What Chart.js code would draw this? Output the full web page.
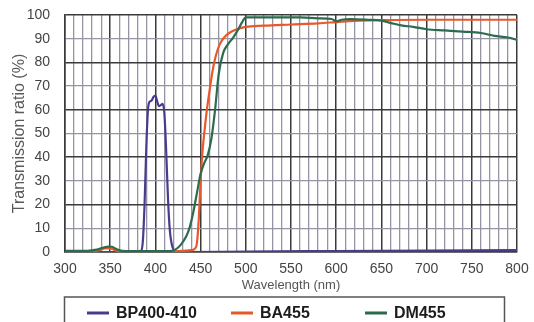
<!DOCTYPE html>
<html>
<head>
<meta charset="utf-8">
<script src="https://cdn.jsdelivr.net/npm/chart.js@4/dist/chart.umd.min.js"></script>
<style>
  html, body { margin: 0; padding: 0; background: #ffffff; }
  #c { display: block; }
</style>
</head>
<body>
<canvas id="c" width="534" height="322"></canvas>
<script>
// Transmission curves of the filter set (wavelength in nm, transmission in %)
const bpWavelength = [300, 380, 384, 386, 388, 390, 392, 394, 396, 398, 400, 402, 404, 406, 408, 410, 412, 414, 416, 418, 420, 423, 430, 500, 600, 700, 800];
const bpValues     = [0, 0, 0.5, 4, 20, 45, 61, 63.5, 64, 65.5, 66, 63.5, 61.5, 62, 62.5, 58, 42, 22, 9, 3.5, 1, 0, 0, 0.2, 0.4, 0.6, 0.8];

const baWavelength = [300, 330, 338, 344, 350, 354, 360, 420, 440, 444, 446, 448, 450, 452, 454, 456, 458, 461, 464, 467, 471, 476, 482, 490, 500, 520, 550, 580, 600, 620, 650, 700, 750, 800];
const baValues     = [0, 0, 0.8, 1.5, 1.6, 1, 0.2, 0.3, 0.8, 1.5, 4, 14, 30, 42, 50, 57, 63, 71, 78, 83, 87.5, 90.5, 92.5, 94, 95, 95.5, 96, 96.5, 97, 97.5, 97.8, 98, 98, 98];

const dmWavelength = [300, 325, 335, 342, 348, 352, 357, 363, 375, 415, 422, 428, 434, 438, 442, 446, 450, 454, 458, 462, 466, 470, 475, 480, 486, 491, 496, 500, 530, 560, 580, 595, 600, 606, 615, 635, 650, 660, 672, 685, 700, 720, 740, 760, 775, 790, 800];
const dmValues     = [0.5, 0.5, 1, 1.8, 2.3, 2.2, 1.2, 0.5, 0.4, 0.4, 1, 3, 6.5, 10.5, 17, 25, 33, 37.5, 41, 48, 60, 75, 84, 87.5, 90.5, 93.5, 97, 99, 99, 99, 98.6, 98.3, 97.3, 98, 98.3, 98, 97.6, 96.7, 95.6, 95, 94, 93.5, 93, 92.4, 91.2, 90.5, 89.5];

const seriesNames  = ['BP400-410', 'BA455', 'DM455'];
const seriesColors = ['#4a3c8c', '#e8592a', '#2c6b4e'];

const xMin = 300, xMax = 800, xStep = 10, xLabelEvery = 50;
const yMin = 0, yMax = 100, yStep = 10, yMajorEvery = 20;

const toPoints = (xs, ys) => xs.map((x, i) => ({ x: x, y: ys[i] }));

// Boxed legend drawn under the axis title
const boxedLegend = {
  id: 'boxedLegend',
  afterDraw(chart) {
    const ctx = chart.ctx;
    const area = chart.chartArea;
    const top = area.bottom + 45;
    ctx.save();
    ctx.strokeStyle = '#555555';
    ctx.lineWidth = 1.5;
    ctx.strokeRect(area.left - 0.5, top, area.right - area.left - 12, 40);
    const lineX = [87, 231, 365];
    const cy = top + 16;
    ctx.font = 'bold 16px "Liberation Sans", Arial, sans-serif';
    ctx.textBaseline = 'middle';
    ctx.textAlign = 'left';
    chart.data.datasets.forEach((ds, i) => {
      ctx.strokeStyle = ds.borderColor;
      ctx.lineWidth = 3;
      ctx.beginPath();
      ctx.moveTo(lineX[i], cy);
      ctx.lineTo(lineX[i] + 22, cy);
      ctx.stroke();
      ctx.fillStyle = '#1c1c1c';
      ctx.fillText(ds.label, lineX[i] + 29, cy + 1);
    });
    ctx.restore();
  }
};

const gridColor = (major) => (ctx) => (ctx.tick && ctx.tick.value % major === 0) ? '#3a3a3a' : '#9494a4';
const gridWidth = (major) => (ctx) => (ctx.tick && ctx.tick.value % major === 0) ? 1.5 : 1.3;

new Chart(document.getElementById('c'), {
  type: 'line',
  data: {
    datasets: [
      { label: seriesNames[0], data: toPoints(bpWavelength, bpValues), borderColor: seriesColors[0], backgroundColor: seriesColors[0], order: 2 },
      { label: seriesNames[1], data: toPoints(baWavelength, baValues), borderColor: seriesColors[1], backgroundColor: seriesColors[1], order: 1 },
      { label: seriesNames[2], data: toPoints(dmWavelength, dmValues), borderColor: seriesColors[2], backgroundColor: seriesColors[2], order: 0 }
    ]
  },
  options: {
    responsive: false,
    animation: false,
    parsing: false,
    elements: {
      point: { radius: 0 },
      line: { borderWidth: 2.2, cubicInterpolationMode: 'monotone', fill: false }
    },
    layout: { padding: { top: 15, right: 17, bottom: 25, left: 0 } },
    plugins: {
      legend: { display: false },
      tooltip: { enabled: false }
    },
    scales: {
      x: {
        type: 'linear',
        min: xMin, max: xMax,
        afterFit: (s) => { s.height = 45; s.paddingLeft = 0; s.paddingRight = 0; },
        afterBuildTicks: (s) => {
          const t = [];
          for (let v = xMin; v <= xMax; v += xStep) t.push({ value: v });
          s.ticks = t;
        },
        ticks: {
          autoSkip: false, maxRotation: 0, padding: 9,
          color: '#444444',
          font: { family: '"Liberation Sans", Arial, sans-serif', size: 14 },
          callback: (v) => (v % xLabelEvery === 0 ? String(v) : '')
        },
        grid: { drawTicks: false, color: gridColor(xLabelEvery), lineWidth: gridWidth(xLabelEvery) },
        border: { display: true, color: '#3a3a3a', width: 1.5 },
        title: {
          display: true, text: 'Wavelength (nm)', color: '#555555',
          font: { family: '"Liberation Sans", Arial, sans-serif', size: 13 },
          padding: { top: 0, bottom: 4 }
        }
      },
      y: {
        min: yMin, max: yMax,
        afterFit: (s) => { s.width = 65; s.paddingTop = 0; s.paddingBottom = 0; },
        ticks: {
          stepSize: yStep, padding: 15,
          color: '#444444',
          font: { family: '"Liberation Sans", Arial, sans-serif', size: 14 }
        },
        grid: { drawTicks: false, color: gridColor(yMajorEvery), lineWidth: gridWidth(yMajorEvery) },
        border: { display: true, color: '#3a3a3a', width: 1.5 },
        title: {
          display: true, text: 'Transmission ratio (%)', color: '#5a5a5a',
          font: { family: '"Liberation Sans", Arial, sans-serif', size: 16 },
          padding: { top: 10, bottom: 0 }
        }
      }
    }
  },
  plugins: [boxedLegend]
});
</script>
</body>
</html>
